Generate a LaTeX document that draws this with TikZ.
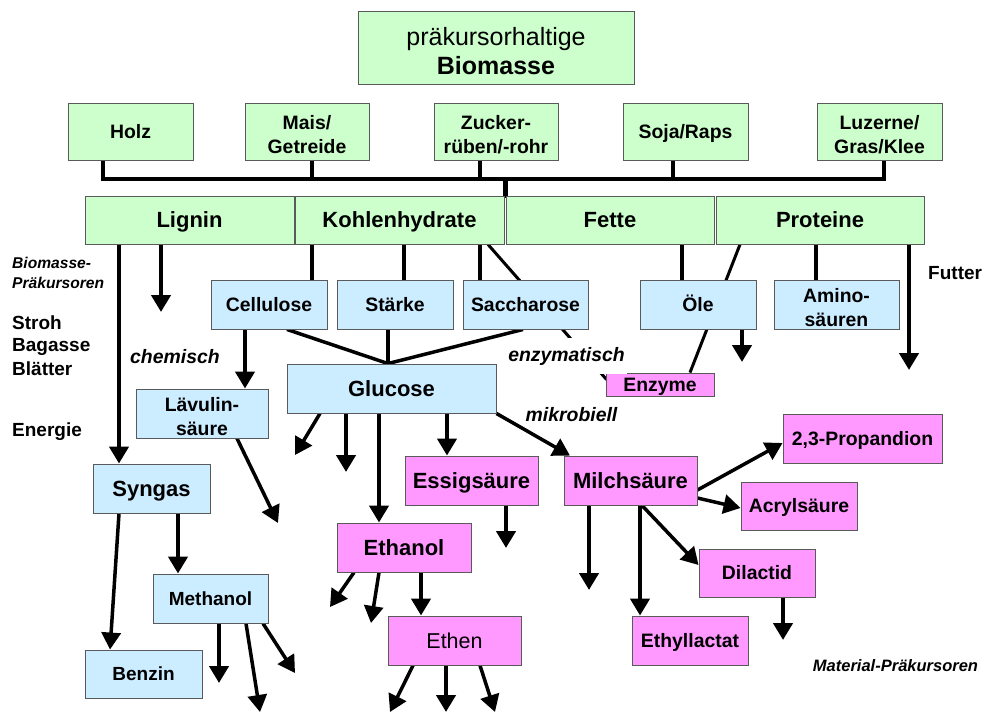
\documentclass[tikz,border=0pt]{standalone}
\usepackage{fontspec}
\setmainfont{Liberation Sans}
\usetikzlibrary{arrows.meta,backgrounds}
\definecolor{boxgreen}{RGB}{204,255,204}
\definecolor{boxblue}{RGB}{204,236,255}
\definecolor{boxpink}{RGB}{255,153,255}
\definecolor{boxline}{RGB}{90,90,90}
\newcommand{\lowr}{\rule{0pt}{20pt}}
\begin{document}
\begin{tikzpicture}[x=1pt,y=-1pt,
  box/.style={draw=boxline, line width=0.9pt, inner sep=0pt, align=center,
    font=\bfseries\fontsize{19.4}{23.5}\selectfont},
  bigtxt/.style={font=\bfseries\fontsize{22}{26}\selectfont, text height=15.8pt, text depth=0pt},
  one/.style={text height=13.9pt, text depth=0pt},
  gbox/.style={box, fill=boxgreen},
  bbox/.style={box, fill=boxblue},
  mbox/.style={box, fill=boxpink},
  tree/.style={line width=4.5pt, line cap=rect},
  stub/.style={line width=4.5pt},
  diag/.style={line width=3.5pt},
  thinl/.style={line width=3pt},
  arr/.style={line width=4.5pt, -{Triangle[width=19pt,length=17pt]}},
  darr/.style={line width=3.5pt, -{Triangle[width=19pt,length=17pt]}},
  lab/.style={inner sep=0pt, font=\bfseries\fontsize{19}{22}\selectfont},
  ilab/.style={inner sep=0pt, font=\bfseries\itshape\fontsize{19.4}{22}\selectfont},
  slab/.style={inner sep=0pt, font=\bfseries\itshape\fontsize{15.6}{18}\selectfont}]
\useasboundingbox (0,0) rectangle (984,713);

% boxes
\node[gbox, minimum width=276pt, minimum height=73pt, font=\fontsize{25}{29}\selectfont] (top) at (496,47.5) {\rule{0pt}{25pt}präkursorhaltige\\\textbf{Biomasse}};
\node[gbox, one, minimum width=125pt, minimum height=57pt] (holz) at (130.5,131.5) {Holz};
\node[gbox, minimum width=124pt, minimum height=57pt] (mais) at (307,131.5) {\lowr Mais/\\Getreide};
\node[gbox, minimum width=124pt, minimum height=57pt] (zucker) at (496,131.5) {\lowr Zucker-\\rüben/-rohr};
\node[gbox, one, minimum width=125pt, minimum height=57pt] (soja) at (685.5,131.5) {Soja/Raps};
\node[gbox, minimum width=125pt, minimum height=57pt] (luzerne) at (879.5,131.5) {\lowr Luzerne/\\Gras/Klee};

\node[gbox, bigtxt, minimum width=209pt, minimum height=48pt] (lignin) at (189.5,220) {Lignin};
\node[gbox, bigtxt, minimum width=209pt, minimum height=48pt] (kohlen) at (399.5,220) {Kohlenhydrate};
\node[gbox, bigtxt, minimum width=208pt, minimum height=48pt] (fette) at (610,220) {Fette};
\node[gbox, bigtxt, minimum width=208pt, minimum height=48pt] (proteine) at (820,220) {Proteine};

\node[bbox, one, minimum width=116pt, minimum height=49pt] (cellulose) at (269,304.5) {Cellulose};
\node[bbox, one, minimum width=116pt, minimum height=49pt] (staerke) at (395,304.5) {Stärke};
\node[bbox, one, minimum width=125pt, minimum height=49pt] (saccharose) at (525.5,304.5) {Saccharose};
\node[bbox, one, minimum width=116pt, minimum height=49pt] (oele) at (698,304.5) {Öle};
\node[bbox, minimum width=125pt, minimum height=49pt] (amino) at (836.5,304.5) {\lowr Amino-\\säuren};

\node[mbox, one, minimum width=108pt, minimum height=23pt] (enzyme) at (660,384.5) {Enzyme};
\node[bbox, bigtxt, minimum width=209pt, minimum height=49pt] (glucose) at (391.5,388.5) {Glucose};
\node[bbox, minimum width=132pt, minimum height=49pt] (laevulin) at (202,413.5) {\lowr Lävulin-\\säure};
\node[bbox, bigtxt, minimum width=117pt, minimum height=49pt] (syngas) at (151.5,488.5) {Syngas};
\node[bbox, font=\bfseries\fontsize{19}{23}\selectfont, text height=13.6pt, text depth=0pt, minimum width=115pt, minimum height=49pt] (methanol) at (210.5,598.5) {Methanol};
\node[bbox, font=\bfseries\fontsize{19}{23}\selectfont, text height=13.6pt, text depth=0pt, minimum width=117pt, minimum height=48pt] (benzin) at (143.5,674) {Benzin};

\node[mbox, bigtxt, minimum width=133pt, minimum height=49pt] (essig) at (471.5,480.5) {Essigsäure};
\node[mbox, bigtxt, minimum width=133pt, minimum height=49pt] (milch) at (630.5,480.5) {Milchsäure};
\node[mbox, bigtxt, minimum width=134pt, minimum height=49pt] (ethanol) at (404,547.5) {Ethanol};
\node[mbox, font=\fontsize{21.5}{25}\selectfont, text height=15.4pt, text depth=0pt, minimum width=133pt, minimum height=49pt] (ethen) at (454.5,640.5) {Ethen};
\node[mbox, one, minimum width=159pt, minimum height=49pt] (propandion) at (862.5,438.5) {2,3-Propandion};
\node[mbox, one, minimum width=116pt, minimum height=48pt] (acryl) at (799,506) {Acrylsäure};
\node[mbox, one, minimum width=116pt, minimum height=48pt] (dilactid) at (757,573) {Dilactid};
\node[mbox, one, minimum width=116pt, minimum height=49pt] (ethyllactat) at (690,640.5) {Ethyllactat};

% free ends
\coordinate (barR) at (884,179);
\coordinate (ligEnd) at (161,312);
\coordinate (oeleEnd) at (742,362);
\coordinate (futEnd) at (909,370);
\coordinate (laevEnd) at (278,523);
\coordinate (g1End) at (295,455);
\coordinate (g2End) at (346,472);
\coordinate (m1End) at (219,683);
\coordinate (m2End) at (260,712);
\coordinate (m3End) at (295,673);
\coordinate (esEnd) at (506,548);
\coordinate (e1End) at (330,607);
\coordinate (e2End) at (371,623);
\coordinate (t1End) at (390,712);
\coordinate (t2End) at (446,712);
\coordinate (t3End) at (495,712);
\coordinate (mi1End) at (589,590);
\coordinate (dEnd) at (783,640);

\begin{pgfonlayer}{background}
% tree
\draw[tree] ([xshift=-27.5pt]holz.south) |- (barR);
\draw[tree] ([xshift=4.5pt]luzerne.south) -- ([xshift=4.5pt]luzerne.south |- barR);
\draw[tree] ([xshift=5pt]mais.south) -- ([xshift=5pt]mais.south |- barR);
\draw[tree] ([xshift=-16pt]zucker.south) -- ([xshift=-16pt]zucker.south |- barR);
\draw[tree] ([xshift=-12.5pt]soja.south) -- ([xshift=-12.5pt]soja.south |- barR);
\draw[tree] ([xshift=1pt]kohlen.north east |- barR) -- ([xshift=1pt]kohlen.north east);

% from row 2
\draw[arr] ([xshift=-70.5pt]lignin.south) -- ([xshift=-32.5pt]syngas.north);
\draw[arr] ([xshift=-28.5pt]lignin.south) -- (ligEnd);
\draw[stub] ([xshift=-87.5pt]kohlen.south) -- ([xshift=43pt]cellulose.north);
\draw[stub] ([xshift=4.5pt]kohlen.south) -- ([xshift=9pt]staerke.north);
\draw[stub] ([xshift=80.5pt]kohlen.south) -- ([xshift=-45.5pt]saccharose.north);
\draw[thinl] ([xshift=88.5pt]kohlen.south) -- ([xshift=1pt,yshift=-7pt]enzyme.north west);
\draw[stub] ([xshift=72pt]fette.south) -- ([xshift=-16pt]oele.north);
\draw[thinl] ([xshift=-80pt]proteine.south) -- ([xshift=30pt]enzyme.north);
\draw[arr] ([xshift=44pt]oele.south) -- (oeleEnd);
\draw[stub] ([xshift=-4pt]proteine.south) -- ([xshift=-20.5pt]amino.north);
\draw[arr] ([xshift=89pt]proteine.south) -- (futEnd);

% to glucose
\draw[diag] ([xshift=18pt]cellulose.south) -- ([xshift=-3.5pt]glucose.north);
\draw[stub] ([xshift=-7pt]staerke.south) -- ([xshift=-3.5pt]glucose.north);
\draw[diag] ([xshift=-2.5pt]saccharose.south) -- ([xshift=-3.5pt]glucose.north);
\draw[arr] ([xshift=-24pt]cellulose.south) -- ([xshift=43pt]laevulin.north);
\draw[darr] ([xshift=35pt]laevulin.south) -- (laevEnd);

% from glucose
\draw[darr] ([xshift=-71.5pt]glucose.south) -- (g1End);
\draw[arr] ([xshift=-45.5pt]glucose.south) -- (g2End);
\draw[arr] ([xshift=-12.5pt]glucose.south) -- ([xshift=-25pt]ethanol.north);
\draw[arr] ([xshift=55.5pt]glucose.south) -- ([xshift=-24.5pt]essig.north);
\draw[darr] (glucose.south east) -- ([xshift=-60.5pt]milch.north);

% syngas, methanol
\draw[darr] ([xshift=-32.5pt]syngas.south) -- ([xshift=-33.5pt]benzin.north);
\draw[arr] ([xshift=26.5pt]syngas.south) -- ([xshift=-32.5pt]methanol.north);
\draw[arr] ([xshift=8.5pt]methanol.south) -- (m1End);
\draw[darr] ([xshift=35.5pt]methanol.south) -- (m2End);
\draw[darr] ([xshift=52.5pt]methanol.south) -- (m3End);

% essig, ethanol, ethen
\draw[arr] ([xshift=34.5pt]essig.south) -- (esEnd);
\draw[darr] ([xshift=-50pt]ethanol.south) -- (e1End);
\draw[darr] ([xshift=-25pt]ethanol.south) -- (e2End);
\draw[arr] ([xshift=17pt]ethanol.south) -- ([xshift=-33.5pt]ethen.north);
\draw[darr] ([xshift=-41.5pt]ethen.south) -- (t1End);
\draw[arr] ([xshift=-8.5pt]ethen.south) -- (t2End);
\draw[darr] ([xshift=25.5pt]ethen.south) -- (t3End);

% milch
\draw[arr] ([xshift=-41.5pt]milch.south) -- (mi1End);
\draw[arr] ([xshift=9.5pt]milch.south) -- ([xshift=-50pt]ethyllactat.north);
\draw[darr] ([xshift=11.5pt]milch.south) -- ([yshift=8pt]dilactid.west);
\draw[darr] ([yshift=-9.5pt]milch.east) -- ([yshift=-4.5pt]propandion.west);
\draw[darr] ([yshift=-17.5pt]milch.east) -- ([yshift=-2pt]acryl.west);
\draw[arr] ([xshift=26pt]dilactid.south) -- (dEnd);
\end{pgfonlayer}

% labels
\node[slab, anchor=west] (bio) at (12,263) {Biomasse-};
\node[slab, anchor=west] (prae) at (12,283) {Präkursoren};
\node[lab, anchor=west] (stroh) at (12,323) {Stroh};
\node[lab, anchor=west] (bagasse) at (12,347) {Bagasse};
\node[lab, anchor=west] (blaetter) at (12,369) {Blätter};
\node[lab, anchor=west] (energie) at (12,432) {Energie};
\node[lab, anchor=west] (futter) at (928,273) {Futter};
\node[ilab, anchor=west] (chem) at (130,357) {chemisch};
\node[ilab, fill=white, inner xsep=2pt, inner ysep=9pt] (enzy) at (566.5,356) {enzymatisch};
\node[ilab] (mikro) at (571.5,415) {mikrobiell};
\node[slab, font=\bfseries\itshape\fontsize{16.5}{19}\selectfont] (mat) at (895.5,666) {Material-Präkursoren};
\end{tikzpicture}
\end{document}
